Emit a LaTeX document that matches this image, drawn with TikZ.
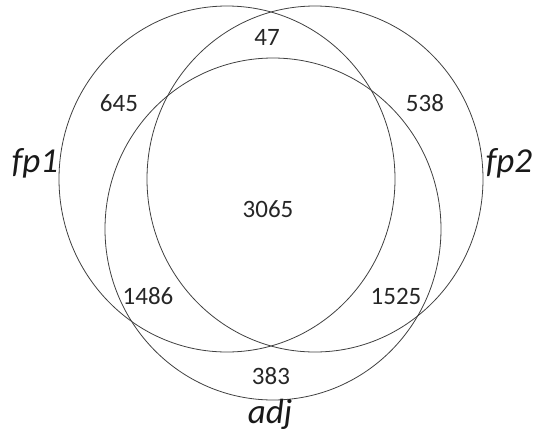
\documentclass[tikz,border=0pt]{standalone}
\usepackage{fontspec}
\setmainfont{Carlito}

\begin{document}
\begin{tikzpicture}[
x=1pt, y=-1pt,
setline/.style={
draw=black!75,
line width=0.8pt
},
count/.style={
font=\fontsize{25}{30}\selectfont,
text=black!85,
inner sep=0pt
},
setname/.style={
font=\fontsize{35}{40}\selectfont\itshape,
text=black!90,
anchor=base,
inner sep=0pt
}
]
\useasboundingbox (0,0) rectangle (536,432);

% the three sets
\draw[setline] (227,179) ellipse [x radius=168, y radius=173];
\draw[setline] (315,179) ellipse [x radius=168, y radius=173];
\draw[setline] (273,229) ellipse [x radius=168, y radius=171];

% set names
\node[setname] (fp1) at (35,172) {fp1};
\node[setname] (fp2) at (509,172) {fp2};
\node[setname] (adj) at (270,423) {adj};

% region counts
\node[count] (top) at (267,37) {47};
\node[count] (left) at (119,103) {645};
\node[count] (right) at (425,103) {538};
\node[count] (centre) at (268,209) {3065};
\node[count] (lowleft) at (148,296) {1486};
\node[count] (lowright) at (396,296) {1525};
\node[count] (bottom) at (271,376) {383};

\end{tikzpicture}
\end{document}
